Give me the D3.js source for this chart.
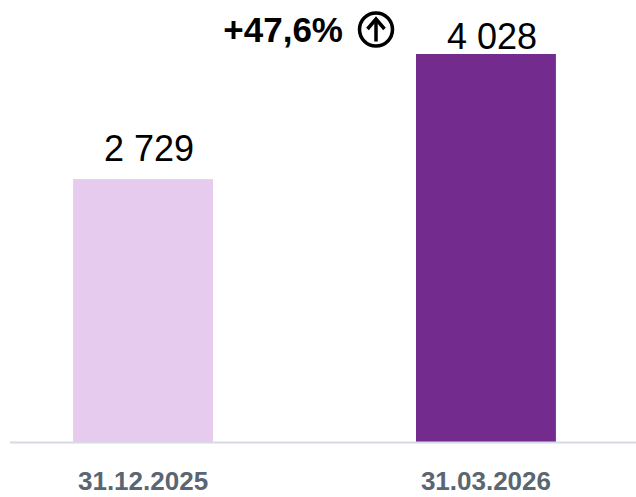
<!DOCTYPE html>
<html>
<head>
<meta charset="utf-8">
<script src="https://cdn.jsdelivr.net/npm/d3@7"></script>
<style>
  html, body { margin: 0; padding: 0; background: #fff; }
  svg { display: block; font-family: "Liberation Sans", Arial, sans-serif; }
</style>
</head>
<body>
<div id="chart"></div>
<script>
const categories = ["31.12.2025", "31.03.2026"];
const values = [2729, 4028];
const barColors = ["#e6cbef", "#732b8d"];

var width = 636;
var height = 497;
var baseY = 442;
var topY = 54;

var locale = d3.formatLocale({decimal: ",", thousands: " ", grouping: [3], currency: ["", ""]});
var fmtValue = locale.format(",d");
var fmtPct = locale.format("+.1f");

var svg = d3.select("#chart").append("svg")
  .attr("width", width)
  .attr("height", height);

var x = d3.scaleBand()
  .domain(categories)
  .range([10, 619])
  .paddingInner(0.592)
  .paddingOuter(0.184);

var y = d3.scaleLinear()
  .domain([0, d3.max(values)])
  .range([baseY, topY]);

var data = categories.map((c, i) => ({cat: c, value: values[i], color: barColors[i]}));

// bars
svg.append("g").selectAll("rect")
  .data(data)
  .enter()
  .append("rect")
  .attr("x", d => x(d.cat))
  .attr("y", d => y(d.value))
  .attr("width", x.bandwidth())
  .attr("height", d => baseY - y(d.value))
  .attr("fill", d => d.color);

// baseline
svg.append("line")
  .attr("x1", 10)
  .attr("x2", width)
  .attr("y1", baseY + 0.5)
  .attr("y2", baseY + 0.5)
  .attr("stroke", "#d6dae4")
  .attr("stroke-width", 2);

// value labels
svg.append("g").selectAll("text")
  .data(data)
  .enter()
  .append("text")
  .attr("text-anchor", "middle")
  .attr("x", d => x(d.cat) + x.bandwidth() / 2 + 6)
  .attr("y", d => Math.max(y(d.value) - 18, 49))
  .attr("font-size", 36)
  .attr("fill", "#000")
  .text(d => fmtValue(d.value));

// category labels
svg.append("g").selectAll("text")
  .data(data)
  .enter()
  .append("text")
  .attr("text-anchor", "middle")
  .attr("x", d => x(d.cat) + x.bandwidth() / 2)
  .attr("y", 490)
  .attr("font-size", 26)
  .attr("font-weight", "bold")
  .attr("fill", "#5a6671")
  .text(d => d.cat);

// growth annotation
var pct = (values[1] / values[0] - 1) * 100;
var annX = x(categories[1]) - 73;
svg.append("text")
  .attr("text-anchor", "end")
  .attr("x", annX)
  .attr("y", 42)
  .attr("font-size", 35)
  .attr("font-weight", "bold")
  .attr("fill", "#000")
  .text(fmtPct(pct) + "%");

var icon = svg.append("g")
  .attr("transform", "translate(" + (annX + 33) + ",29.5)");
icon.append("circle")
  .attr("r", 16.5)
  .attr("fill", "none")
  .attr("stroke", "#000")
  .attr("stroke-width", 3.5);
icon.append("line")
  .attr("x1", 0).attr("x2", 0)
  .attr("y1", -9).attr("y2", 12)
  .attr("stroke", "#000")
  .attr("stroke-width", 3.5);
icon.append("path")
  .attr("d", "M-8.5,-0.5 L0,-10.5 L8.5,-0.5")
  .attr("fill", "none")
  .attr("stroke", "#000")
  .attr("stroke-width", 3.5)
  .attr("stroke-linejoin", "miter");
</script>
</body>
</html>
